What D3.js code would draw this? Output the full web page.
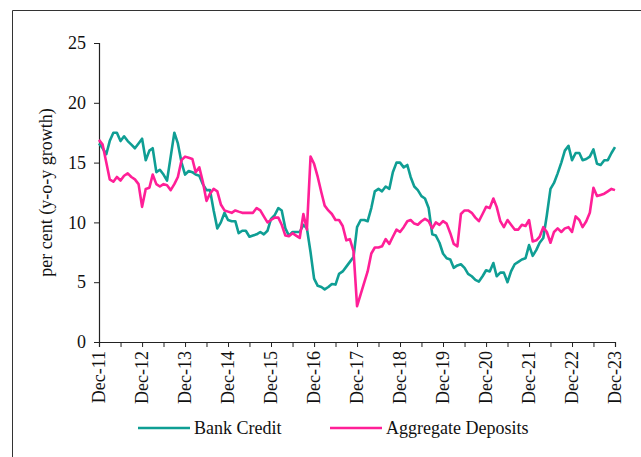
<!DOCTYPE html>
<html>
<head>
<meta charset="utf-8">
<script src="https://cdn.jsdelivr.net/npm/d3@7"></script>
<style>
  html, body { margin: 0; padding: 0; background: #fff; }
  svg { display: block; }
  text { font-family: "Liberation Serif", "DejaVu Serif", serif; fill: #111; }
</style>
</head>
<body>
<svg id="chart" width="641" height="457"></svg>
<script>
// ---- data (monthly, Dec-2011 .. Dec-2023) ----
const startMonth = "2011-12";
const bankCredit = [
  16.6, 16.2, 15.7, 16.8, 17.5, 17.5, 16.8, 17.2, 16.8, 16.5, 16.2, 16.6,
  17.0, 15.2, 16.0, 16.2, 14.2, 14.4, 14.0, 13.5, 15.5, 17.5, 16.6, 15.0,
  14.0, 14.3, 14.2, 14.0, 13.9, 13.2, 12.7, 12.7, 11.0, 9.5, 10.0, 10.8,
  10.2, 10.1, 10.1, 9.1, 9.3, 9.3, 8.8, 8.9, 9.0, 9.2, 9.0, 9.3,
  10.3, 10.6, 11.2, 11.0, 9.5, 8.9, 9.2, 9.2, 9.2, 9.8, 9.5, 7.5,
  5.3, 4.7, 4.6, 4.4, 4.6, 4.85, 4.8, 5.7, 5.9, 6.3, 6.7, 7.1,
  9.6, 10.2, 10.2, 10.1, 11.2, 12.6, 12.8, 12.6, 13.0, 12.8, 14.2, 15.0,
  15.0, 14.6, 14.8, 13.8, 13.0, 12.7, 12.2, 12.0, 11.2, 9.0, 8.9, 8.3,
  7.4, 7.0, 6.9, 6.2, 6.4, 6.5, 6.2, 5.7, 5.5, 5.2, 5.05, 5.5,
  6.0, 5.9, 6.6, 5.5, 5.8, 5.8, 5.0, 5.9, 6.5, 6.7, 6.9, 7.0,
  8.1, 7.2, 7.7, 8.3, 8.7, 10.6, 12.8, 13.3, 14.1, 15.0, 16.0, 16.4,
  15.2, 15.8, 15.8, 15.2, 15.3, 15.5, 16.1, 14.9, 14.8, 15.2, 15.2, 15.8,
  16.3
];
const aggregateDeposits = [
  16.9, 16.5, 15.0, 13.6, 13.4, 13.8, 13.5, 13.9, 14.1, 13.8, 13.6, 13.2,
  11.3, 12.8, 12.9, 14.0, 13.2, 13.0, 13.2, 13.1, 12.7, 13.2, 13.8, 15.2,
  15.5, 15.4, 15.3, 14.2, 14.6, 13.4, 11.8, 12.4, 12.8, 12.6, 11.5, 11.0,
  10.9, 10.8, 11.0, 10.9, 10.8, 10.8, 10.8, 10.8, 11.2, 11.0, 10.5, 10.0,
  10.2, 10.4, 10.4, 9.8, 8.9, 8.85, 9.1, 8.9, 8.7, 10.7, 9.4, 15.5,
  14.9, 13.8, 12.5, 11.4, 11.0, 10.7, 10.2, 10.2, 9.7, 8.5, 8.6, 7.6,
  3.0, 4.0, 5.0, 5.9, 7.4, 7.9, 7.9, 8.0, 8.6, 8.2, 8.8, 9.4,
  9.2, 9.6, 10.1, 10.2, 9.9, 9.8, 10.1, 10.3, 10.1, 9.5, 10.0, 9.8,
  10.1, 9.9, 9.1, 8.2, 8.0, 10.7, 11.0, 11.0, 10.8, 10.4, 10.1, 10.7,
  11.3, 11.2, 12.0, 11.3, 10.1, 9.6, 10.2, 9.8, 9.4, 9.4, 9.8, 9.7,
  10.2, 8.4, 8.5, 8.8, 9.6, 9.2, 8.3, 9.2, 9.5, 9.2, 9.5, 9.6,
  9.2, 10.5, 10.2, 9.6, 10.1, 10.8, 12.9, 12.2, 12.3, 12.4, 12.6, 12.8,
  12.7
];
const xTickLabels = ["Dec-11","Dec-12","Dec-13","Dec-14","Dec-15","Dec-16","Dec-17",
                     "Dec-18","Dec-19","Dec-20","Dec-21","Dec-22","Dec-23"];
const yTicks = [0, 5, 10, 15, 20, 25];
const seriesNames = ["Bank Credit", "Aggregate Deposits"];
const seriesColors = ["#0f9e94", "#ff1f97"];

// ---- layout ----
const svg = d3.select("#chart");
const margin = { left: 99, right: 26, top: 43, bottom: 115 };
const W = 641, H = 457;

const parse = d3.timeParse("%Y-%m");
const t0 = parse(startMonth);
const dates = bankCredit.map((_, i) => d3.timeMonth.offset(t0, i));

const x = d3.scaleTime()
  .domain([dates[0], dates[dates.length - 1]])
  .range([margin.left, W - margin.right]);
const y = d3.scaleLinear().domain([0, 25]).range([H - margin.bottom, margin.top]);

// frame
svg.append("path")
  .attr("d", `M12.5,${H} L12.5,10.5 L${W},10.5`)
  .attr("fill", "none").attr("stroke", "#333").attr("stroke-width", 1);

// y axis
const yAxis = svg.append("g")
  .attr("transform", `translate(${margin.left},0)`)
  .call(d3.axisLeft(y).tickValues(yTicks).tickSize(5).tickPadding(8).tickFormat(d3.format("d")));
yAxis.select(".domain").attr("stroke", "#222").attr("stroke-width", 1.2);
yAxis.selectAll(".tick line").attr("stroke", "#222");
yAxis.selectAll("text").style("font-size", "18px").attr("fill", "#111");

// x axis
const majorTicks = xTickLabels.map((_, i) => d3.timeMonth.offset(t0, i * 12));
const allTicks = d3.range(0, 25).map(i => d3.timeMonth.offset(t0, i * 6));
const xAxis = svg.append("g")
  .attr("transform", `translate(0,${y(0)})`)
  .call(d3.axisBottom(x).tickValues(allTicks).tickSize(5).tickFormat(() => ""));
xAxis.select(".domain").attr("stroke", "#222").attr("stroke-width", 1.2);
xAxis.selectAll(".tick line").attr("stroke", "#222");

svg.append("g").selectAll("text")
  .data(majorTicks)
  .join("text")
  .attr("transform", (d) => `translate(${x(d) + 6},${y(0) + 9}) rotate(-90)`)
  .attr("text-anchor", "end")
  .style("font-size", "18px")
  .text((d, i) => xTickLabels[i]);

// y title
svg.append("text")
  .attr("transform", `translate(52,${(y(0) + y(25)) / 2 + 0}) rotate(-90)`)
  .attr("text-anchor", "middle")
  .style("font-size", "18px")
  .text("per cent (y-o-y growth)");

// lines
const line = d3.line().x((d, i) => x(dates[i])).y(d => y(d));
[bankCredit, aggregateDeposits].forEach((s, k) => {
  svg.append("path")
    .datum(s)
    .attr("fill", "none")
    .attr("stroke", seriesColors[k])
    .attr("stroke-width", 2.6)
    .attr("stroke-linejoin", "round")
    .attr("d", line);
});

// legend
const legendX = [138, 330];
const legY = 428;
seriesNames.forEach((name, k) => {
  svg.append("line")
    .attr("x1", legendX[k]).attr("x2", legendX[k] + 52)
    .attr("y1", legY).attr("y2", legY)
    .attr("stroke", seriesColors[k]).attr("stroke-width", 2.6);
  svg.append("text")
    .attr("x", legendX[k] + 56).attr("y", legY + 6)
    .style("font-size", "18px")
    .text(name);
});
</script>
</body>
</html>
